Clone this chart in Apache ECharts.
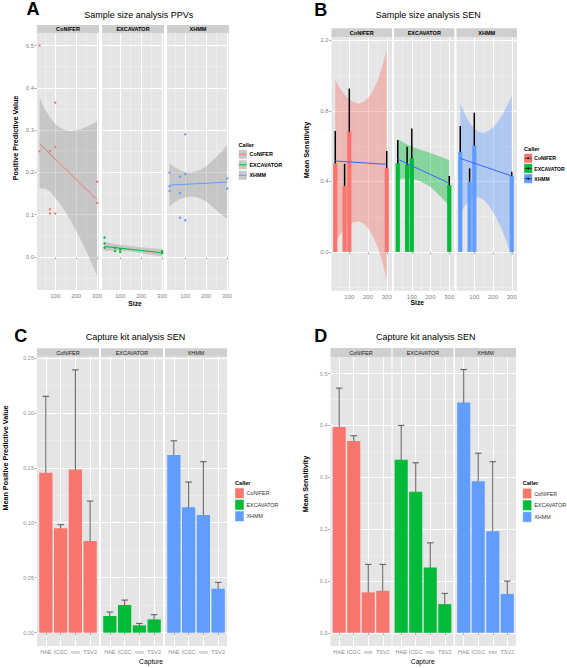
<!DOCTYPE html>
<html>
<head>
<meta charset="utf-8">
<title>CNV caller evaluation</title>
<script src="https://cdn.jsdelivr.net/npm/echarts@6/dist/echarts.min.js"></script>
<style>
html,body{margin:0;padding:0;background:#ffffff;}
#chart{width:567px;height:668px;}
</style>
</head>
<body>
<div id="chart"></div>
<script>
// ================= DATA =================
const callers = ['CoNIFER', 'EXCAVATOR', 'XHMM'];
const callerColors = ['#F8766D', '#00BA38', '#619CFF'];

// ---- Panel A: sample size vs positive predictive value ----
const ppvPointsCoNIFER = [[25,0.500],[25,0.250],[75,0.250],[75,0.113],[75,0.103],[100,0.365],[100,0.260],[100,0.103],[300,0.178],[300,0.128]];
const ppvPointsEXCAVATOR = [[25,0.046],[25,0.032],[25,0.022],[75,0.022],[75,0.014],[100,0.018],[100,0.012],[300,0.014],[300,0.011],[300,0.009]];
const ppvPointsXHMM = [[25,0.200],[25,0.167],[25,0.156],[75,0.190],[75,0.151],[75,0.093],[100,0.290],[100,0.196],[100,0.087],[300,0.186],[300,0.162]];
const ppvFitCoNIFER = [[25,0.268],[300,0.135]];
const ppvFitEXCAVATOR = [[25,0.025],[300,0.010]];
const ppvFitXHMM = [[25,0.170],[300,0.177]];
const bandSizes = [25,50,75,100,125,150,175,200,225,250,275,300];
const ppvBandLoCoNIFER = [0.163,0.162,0.155,0.140,0.125,0.105,0.085,0.062,0.038,0.012,-0.016,-0.045];
const ppvBandHiCoNIFER = [0.377,0.350,0.330,0.315,0.305,0.300,0.298,0.300,0.303,0.308,0.314,0.321];
const ppvBandLoEXCAVATOR = [0.014,0.015,0.015,0.015,0.014,0.013,0.011,0.009,0.007,0.005,0.003,0.001];
const ppvBandHiEXCAVATOR = [0.036,0.033,0.031,0.029,0.027,0.026,0.024,0.023,0.022,0.021,0.020,0.019];
const ppvBandLoXHMM = [0.120,0.130,0.137,0.141,0.143,0.142,0.138,0.131,0.121,0.110,0.100,0.090];
const ppvBandHiXHMM = [0.222,0.212,0.205,0.201,0.200,0.202,0.207,0.215,0.225,0.237,0.250,0.265];

// ---- Panel B: sample size vs mean sensitivity ----
const sampleSizes = [25,75,100,300];
const senMeanCoNIFER = [0.503,0.375,0.682,0.475];
const senLoCoNIFER = [0.320,0.250,0.433,0.376];
const senHiCoNIFER = [0.686,0.500,0.927,0.573];
const senMeanEXCAVATOR = [0.503,0.493,0.531,0.380];
const senLoEXCAVATOR = [0.368,0.390,0.365,0.328];
const senHiEXCAVATOR = [0.635,0.597,0.701,0.431];
const senMeanXHMM = [0.566,0.399,0.604,0.431];
const senLoXHMM = [0.414,0.322,0.415,0.405];
const senHiXHMM = [0.714,0.474,0.790,0.455];
const senFitCoNIFER = [[25,0.516],[300,0.497]];
const senFitEXCAVATOR = [[25,0.526],[300,0.390]];
const senFitXHMM = [[25,0.531],[300,0.431]];
const senBandLoCoNIFER = [0.056,0.099,0.133,0.156,0.169,0.172,0.161,0.134,0.092,0.030,-0.051,-0.158];
const senBandHiCoNIFER = [0.976,0.929,0.893,0.866,0.849,0.842,0.851,0.874,0.912,0.970,1.049,1.152];
const senBandLoEXCAVATOR = [0.410,0.415,0.418,0.415,0.408,0.398,0.385,0.368,0.345,0.318,0.290,0.260];
const senBandHiEXCAVATOR = [0.640,0.625,0.610,0.598,0.588,0.578,0.570,0.562,0.552,0.542,0.532,0.520];
const senBandLoXHMM = [0.221,0.262,0.293,0.309,0.310,0.296,0.266,0.227,0.178,0.119,0.050,-0.024];
const senBandHiXHMM = [0.841,0.782,0.733,0.699,0.680,0.676,0.686,0.707,0.738,0.779,0.830,0.886];

// ---- Panel C: capture kit vs mean positive predictive value ----
const captureKits = ['HAE','ICGC','mix','TSV2'];
const kitPpvMeanCoNIFER = [0.1455,0.0949,0.1485,0.0834];
const kitPpvLoCoNIFER = [0.0758,0.0927,0.0585,0.0473];
const kitPpvHiCoNIFER = [0.2150,0.0982,0.2390,0.1197];
const kitPpvMeanEXCAVATOR = [0.0152,0.0252,0.0067,0.0121];
const kitPpvLoEXCAVATOR = [0.0115,0.0203,0.0048,0.0079];
const kitPpvHiEXCAVATOR = [0.0188,0.0297,0.0085,0.0164];
const kitPpvMeanXHMM = [0.1615,0.1140,0.1070,0.0400];
const kitPpvLoXHMM = [0.1480,0.0909,0.0590,0.0342];
const kitPpvHiXHMM = [0.1745,0.1370,0.1555,0.0458];

// ---- Panel D: capture kit vs mean sensitivity ----
const kitSenMeanCoNIFER = [0.397,0.370,0.078,0.081];
const kitSenLoCoNIFER = [0.321,0.3605,0.0264,0.031];
const kitSenHiCoNIFER = [0.472,0.380,0.132,0.132];
const kitSenMeanEXCAVATOR = [0.334,0.272,0.126,0.0553];
const kitSenLoEXCAVATOR = [0.267,0.217,0.079,0.0347];
const kitSenHiEXCAVATOR = [0.400,0.328,0.1735,0.076];
const kitSenMeanXHMM = [0.444,0.2925,0.196,0.075];
const kitSenLoXHMM = [0.379,0.238,0.0624,0.0515];
const kitSenHiXHMM = [0.508,0.3465,0.330,0.0997];

// ---- tick labels ----
const sizeTicks = [100,200,300];
const sizeMinor = [50,150,250];
const ppvTicks = [0,0.1,0.2,0.3,0.4,0.5];
const ppvMinor = [-0.05,0.05,0.15,0.25,0.35,0.45];
const senSizeTicks = [0,0.4,0.8,1.2];
const senSizeMinor = [-0.2,0.2,0.6,1.0];
const kitPpvTicks = [0,0.05,0.10,0.15,0.20,0.25];
const kitPpvMinor = [0.025,0.075,0.125,0.175,0.225];
const kitSenTicks = [0,0.1,0.2,0.3,0.4,0.5];
const kitSenMinor = [0.05,0.15,0.25,0.35,0.45];
const kitPositions = [1,2,3,4];

// ================= BUILD =================
const FONT = '"Liberation Sans", Arial, Helvetica, sans-serif';
const PANEL_BG = '#E5E5E5', STRIP_BG = '#CFCFCF', MINOR = '#F2F2F2';
const grids = [], xAxes = [], yAxes = [], series = [], graphics = [];

const layout = {
  A: {lefts:[37,102,167], width:62, top:33.3, bottom:290, stripTop:25},
  B: {lefts:[331.5,394,456.5], width:60.5, top:37.3, bottom:290.7, stripTop:28.3},
  C: {lefts:[37,101,165], width:62, top:356.7, bottom:646, stripTop:348.3},
  D: {lefts:[330.5,392.5,455], width:61, top:357, bottom:646, stripTop:348}
};

function minorAxis(gi, min, max, vals, pos) {
  return {type:'value', gridIndex:gi, min:min, max:max, position:pos, silent:true,
    axisLine:{show:false}, axisLabel:{show:false},
    axisTick:{show:false, customValues:vals},
    splitLine:{show:true, lineStyle:{color:MINOR, width:0.6}}};
}
function majorAxis(gi, min, max, vals, pos, showLabel, fmt, ls) {
  return {type:'value', gridIndex:gi, min:min, max:max, position:pos, silent:true,
    axisLine:{show:false},
    axisTick:{show:showLabel, customValues:vals, length:2.5, lineStyle:{color:'#7F7F7F', width:0.6}},
    axisLabel:{show:showLabel, customValues:vals, formatter:fmt, margin:ls.margin,
      fontSize:ls.size, color:ls.color, fontFamily:FONT},
    splitLine:{show:true, lineStyle:{color:'#FFFFFF', width:1}}};
}
function facet(P, f, xc, yc, stripText, stripStyle) {
  const L = P.lefts[f], W = P.width, T = P.top, H = P.bottom - P.top;
  const gi = grids.length;
  grids.push({left:L, top:T, width:W, height:H, show:true, backgroundColor:PANEL_BG, borderWidth:0});
  if (xc.minor) xAxes.push(minorAxis(gi, xc.min, xc.max, xc.minor, 'top'));
  if (yc.minor) yAxes.push(minorAxis(gi, yc.min, yc.max, yc.minor, 'right'));
  const xi = xAxes.length; xAxes.push(majorAxis(gi, xc.min, xc.max, xc.ticks, 'bottom', true, xc.fmt, xc.label));
  const yi = yAxes.length; yAxes.push(majorAxis(gi, yc.min, yc.max, yc.ticks, 'left', f === 0, yc.fmt, yc.label));
  graphics.push({type:'rect', silent:true, shape:{x:L, y:P.stripTop, width:W, height:T - P.stripTop}, style:{fill:STRIP_BG}});
  graphics.push({type:'text', silent:true, x:L + W / 2, y:(P.stripTop + T) / 2 + 0.3,
    style:{text:stripText, fontSize:5.5, fontFamily:FONT, fontWeight:stripStyle.weight, fill:stripStyle.color, align:'center', verticalAlign:'middle'}});
  return {xAxisIndex:xi, yAxisIndex:yi};
}
function bandSeries(ax, lo, hi, fill) {
  return Object.assign({type:'custom', silent:true, animation:false,
    data: bandSizes.map((x, k) => [x, lo[k], hi[k]]),
    renderItem: function (params, api) {
      if (params.dataIndex !== 0) return null;
      const pts = [];
      for (let k = 0; k < bandSizes.length; k++) pts.push(api.coord([bandSizes[k], hi[k]]));
      for (let k = bandSizes.length - 1; k >= 0; k--) pts.push(api.coord([bandSizes[k], lo[k]]));
      return {type:'polygon', shape:{points:pts}, style:{fill:fill}};
    }}, ax);
}
function lineSeries(ax, data, color) {
  return Object.assign({type:'line', silent:true, data:data, symbol:'none', showSymbol:false,
    lineStyle:{color:color, width:1}, itemStyle:{color:color}}, ax);
}
function pointSeries(ax, data, color) {
  return Object.assign({type:'scatter', silent:true, data:data, symbolSize:2.4, itemStyle:{color:color, opacity:1}}, ax);
}
function barSeries(ax, xs, vals, color) {
  return Object.assign({type:'bar', silent:true, data:xs.map((x, i) => [x, vals[i]]), barWidth:'90%',
    itemStyle:{color:color}}, ax);
}
function errSeries(ax, xs, lo, hi, capWidth, color, lw) {
  return Object.assign({type:'custom', silent:true,
    data: xs.map((x, i) => [x, lo[i], hi[i]]),
    renderItem: function (params, api) {
      const x = api.value(0);
      const pLo = api.coord([x, api.value(1)]);
      const pHi = api.coord([x, api.value(2)]);
      const st = {stroke:color, lineWidth:lw, fill:null};
      const ch = [{type:'line', shape:{x1:pLo[0], y1:pLo[1], x2:pHi[0], y2:pHi[1]}, style:st}];
      if (capWidth) {
        const half = api.size([capWidth, 0])[0] / 2;
        ch.push({type:'line', shape:{x1:pLo[0] - half, y1:pLo[1], x2:pLo[0] + half, y2:pLo[1]}, style:st});
        ch.push({type:'line', shape:{x1:pHi[0] - half, y1:pHi[1], x2:pHi[0] + half, y2:pHi[1]}, style:st});
      }
      return {type:'group', children:ch};
    }}, ax);
}
function text(x, y, str, size, opts) {
  opts = opts || {};
  graphics.push({type:'text', silent:true, x:x, y:y, rotation:opts.rot || 0,
    style:{text:str, fontSize:size, fontFamily:FONT, fontWeight:opts.weight || 'normal',
      fill:opts.color || '#000000', align:opts.align || 'center', verticalAlign:'middle'}});
}
function hexAlpha(hex, a) {
  const r = parseInt(hex.slice(1,3),16), g = parseInt(hex.slice(3,5),16), b = parseInt(hex.slice(5,7),16);
  return 'rgba(' + r + ',' + g + ',' + b + ',' + a + ')';
}

const fmt1 = v => v.toFixed(1), fmt2 = v => v.toFixed(2), fmt0 = v => String(Math.round(v));
const labAB = {size:6, color:'#7F7F7F', margin:3};
const labCD = {size:5.5, color:'#8C8C8C', margin:3};
const stripBold = {weight:'bold', color:'#000000'};
const stripPlain = {weight:'normal', color:'#1A1A1A'};

// ---- Panel A ----
const ppvPoints = [ppvPointsCoNIFER, ppvPointsEXCAVATOR, ppvPointsXHMM];
const ppvFits = [ppvFitCoNIFER, ppvFitEXCAVATOR, ppvFitXHMM];
const ppvBandLo = [ppvBandLoCoNIFER, ppvBandLoEXCAVATOR, ppvBandLoXHMM];
const ppvBandHi = [ppvBandHiCoNIFER, ppvBandHiEXCAVATOR, ppvBandHiXHMM];
callers.forEach((c, f) => {
  const ax = facet(layout.A, f,
    {min:13, max:309, ticks:sizeTicks, minor:sizeMinor, fmt:fmt0, label:labAB},
    {min:-0.078, max:0.529, ticks:ppvTicks, minor:ppvMinor, fmt:fmt1, label:labAB}, c, stripBold);
  series.push(bandSeries(ax, ppvBandLo[f], ppvBandHi[f], 'rgba(153,153,153,0.4)'));
  series.push(pointSeries(ax, ppvPoints[f], callerColors[f]));
  series.push(lineSeries(ax, ppvFits[f], callerColors[f]));
});

// ---- Panel B ----
const senMean = [senMeanCoNIFER, senMeanEXCAVATOR, senMeanXHMM];
const senLo = [senLoCoNIFER, senLoEXCAVATOR, senLoXHMM];
const senHi = [senHiCoNIFER, senHiEXCAVATOR, senHiXHMM];
const senFits = [senFitCoNIFER, senFitEXCAVATOR, senFitXHMM];
const senBandLo = [senBandLoCoNIFER, senBandLoEXCAVATOR, senBandLoXHMM];
const senBandHi = [senBandHiCoNIFER, senBandHiEXCAVATOR, senBandHiXHMM];
callers.forEach((c, f) => {
  const ax = facet(layout.B, f,
    {min:5, max:328, ticks:sizeTicks, minor:sizeMinor, fmt:fmt0, label:labAB},
    {min:-0.22, max:1.218, ticks:senSizeTicks, minor:senSizeMinor, fmt:fmt1, label:labAB}, c, stripBold);
  series.push(bandSeries(ax, senBandLo[f], senBandHi[f], hexAlpha(callerColors[f], 0.4)));
  series.push(barSeries(ax, sampleSizes, senMean[f], callerColors[f]));
  series.push(errSeries(ax, sampleSizes, senLo[f], senHi[f], 0, '#000000', 1.5));
  series.push(lineSeries(ax, senFits[f], '#3366FF'));
});

// ---- Panel C ----
const kitPpvMean = [kitPpvMeanCoNIFER, kitPpvMeanEXCAVATOR, kitPpvMeanXHMM];
const kitPpvLo = [kitPpvLoCoNIFER, kitPpvLoEXCAVATOR, kitPpvLoXHMM];
const kitPpvHi = [kitPpvHiCoNIFER, kitPpvHiEXCAVATOR, kitPpvHiXHMM];
const kitFmt = v => captureKits[kitPositions.indexOf(Math.round(v))] || '';
callers.forEach((c, f) => {
  const ax = facet(layout.C, f,
    {min:0.4, max:4.6, ticks:kitPositions, minor:null, fmt:kitFmt, label:labCD},
    {min:-0.0121, max:0.251, ticks:kitPpvTicks, minor:kitPpvMinor, fmt:fmt2, label:labCD}, c, stripPlain);
  series.push(barSeries(ax, kitPositions, kitPpvMean[f], callerColors[f]));
  series.push(errSeries(ax, kitPositions, kitPpvLo[f], kitPpvHi[f], 0.45, '#333333', 0.8));
});

// ---- Panel D ----
const kitSenMean = [kitSenMeanCoNIFER, kitSenMeanEXCAVATOR, kitSenMeanXHMM];
const kitSenLo = [kitSenLoCoNIFER, kitSenLoEXCAVATOR, kitSenLoXHMM];
const kitSenHi = [kitSenHiCoNIFER, kitSenHiEXCAVATOR, kitSenHiXHMM];
callers.forEach((c, f) => {
  const ax = facet(layout.D, f,
    {min:0.4, max:4.6, ticks:kitPositions, minor:null, fmt:kitFmt, label:labCD},
    {min:-0.0255, max:0.532, ticks:kitSenTicks, minor:kitSenMinor, fmt:fmt1, label:labCD}, c, stripPlain);
  series.push(barSeries(ax, kitPositions, kitSenMean[f], callerColors[f]));
  series.push(errSeries(ax, kitPositions, kitSenLo[f], kitSenHi[f], 0.45, '#333333', 0.8));
});

// ---- panel letters & titles ----
text(33, 9, 'A', 18, {weight:'bold'});
text(320.8, 9.5, 'B', 18, {weight:'bold'});
text(20.8, 336, 'C', 18, {weight:'bold'});
text(320.8, 336, 'D', 18, {weight:'bold'});
text(138.8, 14.5, 'Sample size analysis PPVs', 9);
text(428.3, 14.5, 'Sample size analysis SEN', 9);
text(135.5, 337, 'Capture kit analysis SEN', 9);
text(425.7, 337, 'Capture kit analysis SEN', 9);

// ---- axis titles ----
text(135, 303, 'Size', 6.7, {weight:'bold'});
text(417.3, 302, 'Size', 6.7, {weight:'bold'});
text(151, 661, 'Capture', 6.7);
text(422.7, 661, 'Capture', 6.7);
text(15, 138, 'Positive Predictive Value', 7.2, {weight:'bold', rot:Math.PI / 2});
text(306.7, 150, 'Mean Sensitivity', 7.2, {weight:'bold', rot:Math.PI / 2});
text(5.5, 458, 'Mean Positive Predictive Value', 7.2, {weight:'bold', rot:Math.PI / 2});
text(305, 484, 'Mean Sensitivity', 7.2, {weight:'bold', rot:Math.PI / 2});

// ---- legends ----
function legend(x0, yTitle, rowTops, keyW, keyH, kind, labelStyle) {
  text(x0, yTitle, 'Caller', 5.6, {weight:'bold', align:'left'});
  callers.forEach((c, i) => {
    const y = rowTops[i], cy = y + keyH / 2;
    if (kind === 'smooth') {
      graphics.push({type:'rect', silent:true, shape:{x:x0, y:y, width:keyW, height:keyH}, style:{fill:'#C8C8C8', stroke:'#FFFFFF', lineWidth:0.5}});
      graphics.push({type:'line', silent:true, shape:{x1:x0 + 0.5, y1:cy, x2:x0 + keyW - 0.5, y2:cy}, style:{stroke:callerColors[i], lineWidth:1}});
    } else if (kind === 'barline') {
      graphics.push({type:'rect', silent:true, shape:{x:x0, y:y, width:keyW, height:keyH}, style:{fill:callerColors[i], stroke:'#FFFFFF', lineWidth:0.5}});
      graphics.push({type:'line', silent:true, shape:{x1:x0 + 0.5, y1:cy, x2:x0 + keyW - 0.5, y2:cy}, style:{stroke:'#222222', lineWidth:0.7}});
      graphics.push({type:'circle', silent:true, shape:{cx:x0 + keyW / 2, cy:cy, r:0.9}, style:{fill:'#000000'}});
    } else {
      graphics.push({type:'rect', silent:true, shape:{x:x0, y:y, width:keyW, height:keyH}, style:{fill:callerColors[i], stroke:'#FFFFFF', lineWidth:0.5}});
    }
    text(x0 + keyW + labelStyle.gap, cy + 0.2, c, labelStyle.size, {weight:labelStyle.weight, color:labelStyle.color, align:'left'});
  });
}
legend(238.5, 145, [149.5, 160, 170.5], 8.5, 9.5, 'smooth', {weight:'bold', color:'#000000', size:5.4, gap:2.5});
legend(524, 148.5, [153.5, 163.7, 173.9], 8.5, 9.5, 'barline', {weight:'bold', color:'#000000', size:5.0, gap:1.8});
legend(235, 483, [488, 499.5, 511], 9, 10.5, 'fill', {weight:'normal', color:'#333333', size:5.4, gap:2.5});
legend(522.7, 483, [488.3, 500, 511.7], 9, 10.5, 'fill', {weight:'normal', color:'#333333', size:5.4, gap:2.5});

const chart = echarts.init(document.getElementById('chart'), null, {renderer:'svg'});
chart.setOption({
  animation:false,
  backgroundColor:'#FFFFFF',
  grid:grids, xAxis:xAxes, yAxis:yAxes, series:series,
  graphic:{elements:graphics}
});
</script>
</body>
</html>
